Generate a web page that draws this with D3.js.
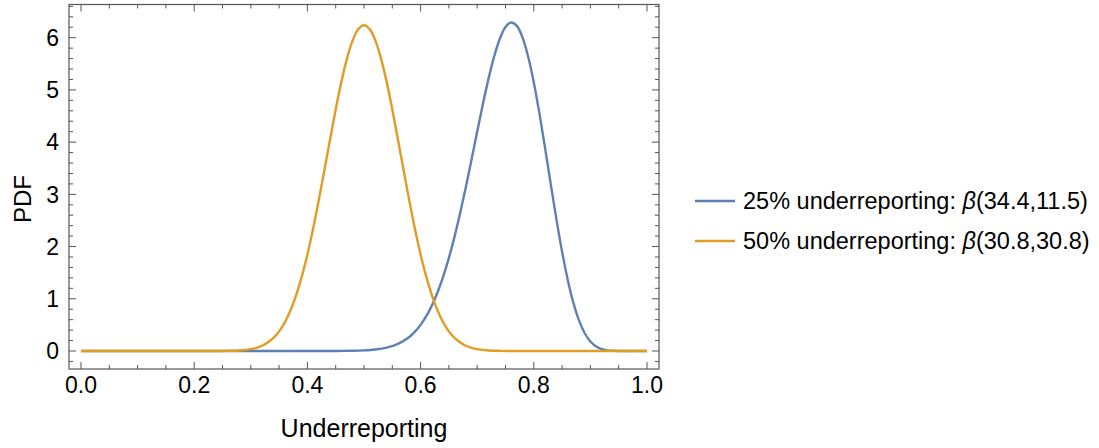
<!DOCTYPE html>
<html><head><meta charset="utf-8">
<script src="https://cdn.jsdelivr.net/npm/d3@7"></script>
<style>
body{margin:0;background:#fff;}
text{font-family:"Liberation Sans",Arial,sans-serif;}
</style></head>
<body><svg id="c" width="1099" height="448"></svg>
<script>
const x25 = [0,0.1,0.2,0.3,0.4,0.44,0.46,0.48,0.50,0.52,0.54,0.56,0.58,0.59,0.60,0.61,0.62,0.63,0.64,0.65,0.66,0.67,0.68,0.69,0.70,0.71,0.72,0.73,0.74,0.75,0.76,0.77,0.78,0.79,0.80,0.81,0.82,0.83,0.84,0.85,0.86,0.87,0.88,0.89,0.90,0.91,0.92,0.93,0.94,0.96,1.0];
const pdf25 = [0,0,0,0,0,0.0005,0.0016,0.0046,0.0118,0.0285,0.0643,0.136,0.269,0.370,0.500,0.666,0.873,1.125,1.428,1.784,2.190,2.646,3.142,3.666,4.202,4.726,5.216,5.644,5.981,6.205,6.29,6.226,6.007,5.640,5.144,4.546,3.882,3.193,2.520,1.900,1.361,0.920,0.581,0.340,0.1815,0.0869,0.0363,0.0128,0.0036,0,0];
const x50 = [0,0.1,0.2,0.24,0.26,0.28,0.30,0.31,0.32,0.33,0.34,0.35,0.36,0.37,0.38,0.39,0.40,0.41,0.42,0.43,0.44,0.45,0.46,0.47,0.48,0.49,0.50,0.51,0.52,0.53,0.54,0.55,0.56,0.57,0.58,0.59,0.60,0.61,0.62,0.63,0.64,0.65,0.66,0.67,0.68,0.69,0.70,0.72,0.74,0.76,0.8,0.9,1.0];
const pdf50 = [0,0,0,0.0005,0.0025,0.0102,0.0346,0.0598,0.0997,0.1605,0.2495,0.3755,0.548,0.775,1.065,1.423,1.849,2.338,2.881,3.460,4.050,4.625,5.154,5.604,5.949,6.166,6.24,6.166,5.949,5.604,5.154,4.625,4.050,3.460,2.881,2.338,1.849,1.423,1.065,0.775,0.548,0.3755,0.2495,0.1605,0.0997,0.0598,0.0346,0.0102,0.0025,0.0005,0,0,0];
const seriesNames = ["25% underreporting: ", "50% underreporting: "];
const seriesParams = ["(34.4,11.5)", "(30.8,30.8)"];
const xTicks = [0,0.2,0.4,0.6,0.8,1.0];
const yTicks = [0,1,2,3,4,5,6];
const xLabel = "Underreporting";
const yLabel = "PDF";

const colors = ["#5E81B5", "#E19C24"];
const svg = d3.select("#c");
const L = 69, R = 659, T = 4.5, B = 369;
const x = d3.scaleLinear().domain([-0.0212, 1.0212]).range([L, R]);
const y = d3.scaleLinear().domain([-0.345, 6.636]).range([B, T]);
const frameColor = "#555";

const xMinor = d3.range(0, 1.0001, 0.05).filter(v => !xTicks.some(t => Math.abs(t - v) < 1e-6));
const yMinor = d3.range(-0.2, 6.7, 0.2).filter(v => !yTicks.some(t => Math.abs(t - v) < 1e-6) && v > -0.345 && v < 6.636);

const g = svg.append("g");
function tickLines(vals, len) {
  vals.forEach(v => {
    g.append("line").attr("x1", x(v)).attr("x2", x(v)).attr("y1", B).attr("y2", B - len).attr("stroke", frameColor);
    g.append("line").attr("x1", x(v)).attr("x2", x(v)).attr("y1", T).attr("y2", T + len).attr("stroke", frameColor);
  });
}
function tickLinesY(vals, len) {
  vals.forEach(v => {
    g.append("line").attr("y1", y(v)).attr("y2", y(v)).attr("x1", L).attr("x2", L + len).attr("stroke", frameColor);
    g.append("line").attr("y1", y(v)).attr("y2", y(v)).attr("x1", R).attr("x2", R - len).attr("stroke", frameColor);
  });
}
tickLines(xTicks, 7);
tickLines(xMinor, 4);
tickLinesY(yTicks, 7);
tickLinesY(yMinor, 4);

const series = [[x25, pdf25], [x50, pdf50]];
series.forEach(([xs, ys], k) => {
  const line = d3.line().x((d, i) => x(xs[i])).y(d => y(d)).curve(d3.curveCatmullRom.alpha(0.5));
  svg.append("path").datum(ys).attr("d", line).attr("fill", "none")
    .attr("stroke", colors[k]).attr("stroke-width", 2.4).attr("stroke-linejoin", "round");
});

svg.append("rect").attr("x", L).attr("y", T).attr("width", R - L).attr("height", B - T)
  .attr("fill", "none").attr("stroke", frameColor).attr("stroke-width", 1.2);

xTicks.forEach(v => {
  svg.append("text").attr("x", x(v)).attr("y", B + 24).attr("text-anchor", "middle")
    .attr("font-size", 23).attr("fill", "#000").text(d3.format(".1f")(v));
});
yTicks.forEach(v => {
  svg.append("text").attr("x", L - 10).attr("y", y(v)).attr("dy", "0.36em").attr("text-anchor", "end")
    .attr("font-size", 23).attr("fill", "#000").text(v);
});
svg.append("text").attr("x", x(0.5)).attr("y", 437).attr("text-anchor", "middle")
  .attr("font-size", 25).attr("fill", "#000").text(xLabel);
svg.append("text").attr("transform", `translate(31,199) rotate(-90)`).attr("text-anchor", "middle")
  .attr("font-size", 24).attr("fill", "#000").text(yLabel);

const legY = [201, 241];
seriesNames.forEach((nm, k) => {
  svg.append("line").attr("x1", 695).attr("x2", 735).attr("y1", legY[k]).attr("y2", legY[k])
    .attr("stroke", colors[k]).attr("stroke-width", 2.4);
  const t = svg.append("text").attr("x", 743).attr("y", legY[k]).attr("dy", "0.36em")
    .attr("font-size", 23.5).attr("fill", "#000");
  t.append("tspan").text(nm);
  t.append("tspan").attr("font-style", "italic").text("β");
  t.append("tspan").text(seriesParams[k]);
});
</script></body></html>
